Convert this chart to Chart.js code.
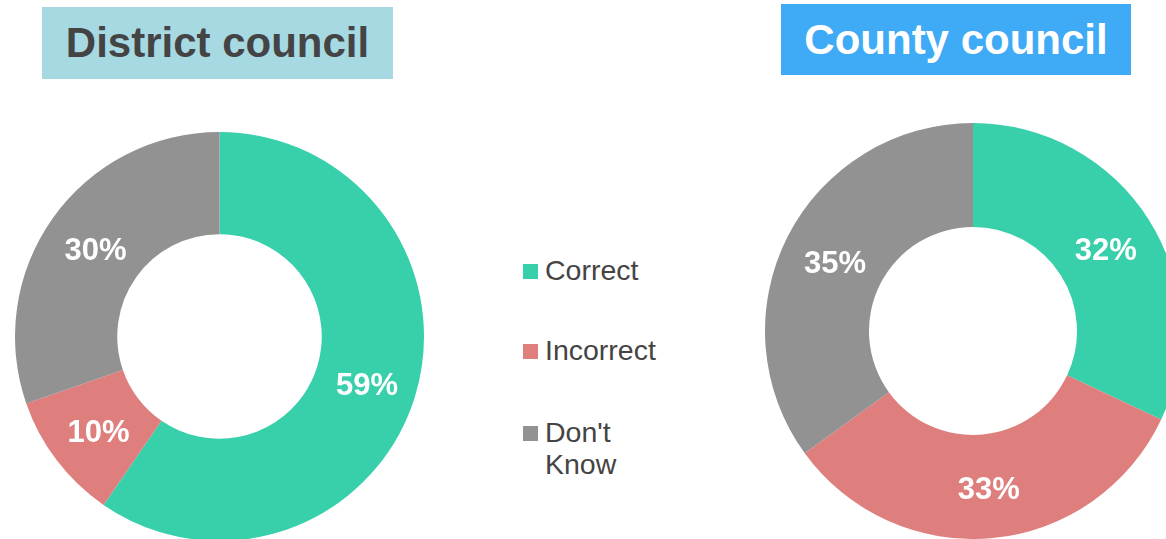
<!DOCTYPE html>
<html>
<head>
<meta charset="utf-8">
<script src="https://cdn.jsdelivr.net/npm/chart.js@4"></script>
<style>
  html, body { margin: 0; padding: 0; width: 1166px; height: 539px; overflow: hidden; background: #fff; font-family: "Liberation Sans", Arial, sans-serif; }
  .title { position: absolute; font-weight: bold; font-size: 42px; display: flex; align-items: center; justify-content: center; }
  #t1 { left: 42px; top: 7px; width: 351px; height: 72px; background: #A7D9E3; color: #444444; }
  #t2 { left: 781px; top: 4px; width: 350px; height: 71px; background: #3FAAF5; color: #ffffff; }
  .wrap { position: absolute; }
  #w1 { left: 15px; top: 132px; width: 409px; height: 409px; }
  #w2 { left: 765px; top: 123px; width: 416px; height: 416px; }
  #legend { position: absolute; left: 523px; top: 254px; width: 150px; color: #444444; font-size: 28.5px; }
  .li { position: absolute; left: 0; display: flex; align-items: flex-start; }
  .sw { width: 15px; height: 15px; margin-top: 10px; margin-right: 7px; flex: none; }
  .lt { line-height: 32px; width: 100px; }
</style>
</head>
<body>
<div class="title" id="t1">District council</div>
<div class="title" id="t2">County council</div>
<div class="wrap" id="w1"><canvas id="c1"></canvas></div>
<div class="wrap" id="w2"><canvas id="c2"></canvas></div>
<div id="legend"></div>
<script>
const categories = ["Correct", "Incorrect", "Don't Know"];
const districtValues = [59, 10, 30];
const countyValues = [32, 33, 35];
const colors = ["#38CFAB", "#DE7F7E", "#929292"];
const legendTops = [0, 80, 162];

const labelPlugin = {
  id: 'pctLabels',
  afterDatasetsDraw(chart) {
    const ctx = chart.ctx;
    const meta = chart.getDatasetMeta(0);
    const data = chart.data.datasets[0].data;
    ctx.save();
    ctx.fillStyle = '#ffffff';
    ctx.font = 'bold 31px "Liberation Sans", Arial, sans-serif';
    ctx.textAlign = 'center';
    ctx.textBaseline = 'middle';
    meta.data.forEach((arc, i) => {
      const p = arc.tooltipPosition();
      ctx.fillText(data[i] + '%', p.x + 1, p.y + 4);
    });
    ctx.restore();
  }
};

function makeChart(id, values) {
  return new Chart(document.getElementById(id), {
    type: 'doughnut',
    data: {
      labels: categories,
      datasets: [{
        data: values,
        backgroundColor: colors,
        borderWidth: 0,
        hoverOffset: 0,
        offset: 0
      }]
    },
    options: {
      responsive: true,
      maintainAspectRatio: false,
      animation: false,
      events: [],
      cutout: '50%',
      layout: { padding: 0 },
      plugins: { legend: { display: false }, tooltip: { enabled: false }, title: { display: false } }
    },
    plugins: [labelPlugin]
  });
}

makeChart('c1', districtValues);
makeChart('c2', countyValues);

const legend = document.getElementById('legend');
categories.forEach((c, i) => {
  const li = document.createElement('div');
  li.className = 'li';
  li.style.top = legendTops[i] + 'px';
  const sw = document.createElement('div');
  sw.className = 'sw';
  sw.style.background = colors[i];
  const lt = document.createElement('div');
  lt.className = 'lt';
  lt.textContent = c;
  li.appendChild(sw);
  li.appendChild(lt);
  legend.appendChild(li);
});
</script>
</body>
</html>
